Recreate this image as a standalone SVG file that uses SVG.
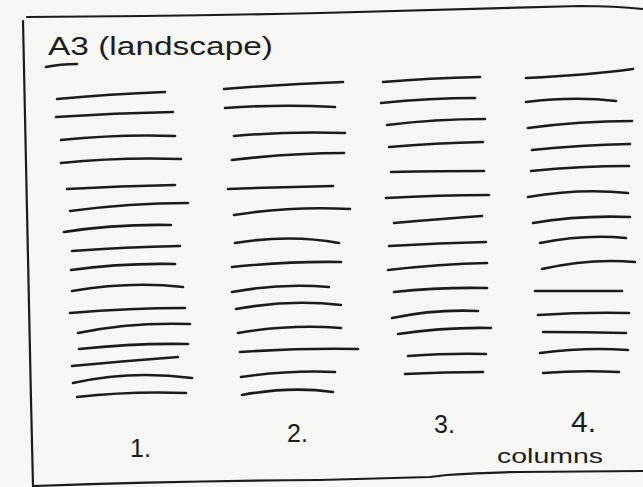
<svg xmlns="http://www.w3.org/2000/svg" width="643" height="487" viewBox="0 0 643 487">
<style>
.bg{fill:#f7f7f5}
.ink{fill:none;stroke:#1c1c1c;stroke-width:2.6;stroke-linecap:round;stroke-linejoin:round}
.frame{fill:none;stroke:#1c1c1c;stroke-width:2.2;stroke-linecap:round;stroke-linejoin:round}
.t{font-family:"Liberation Sans","DejaVu Sans",sans-serif;fill:#1c1c1c}
</style>
<rect class="bg" x="0" y="0" width="643" height="487"/>
<g id="sheet">
<path class="frame" d="M27 17 Q180 16 320 13 Q450 10 580 6 Q615 6 643 9"/>
<path class="frame" d="M23 21 Q28 250 31 400 L33 486"/>
<path class="frame" d="M33 486 Q180 481 320 480 L430 477 L447 475 Q500 472 520 472 L643 471"/>
</g>
<g id="title">
<text class="t" x="48" y="55" font-size="26" textLength="225" lengthAdjust="spacingAndGlyphs">A3 (landscape)</text>
<path class="ink" d="M46 67 Q60 64 77 64"/>
</g>
<g id="column1">
<path class="ink" d="M57 99 Q110 94 165 92"/>
<path class="ink" d="M56 117 Q115 113 173 112"/>
<path class="ink" d="M61 140 Q120 134 175 136"/>
<path class="ink" d="M61 163 Q120 157 181 159"/>
<path class="ink" d="M67 189 Q120 186 175 185"/>
<path class="ink" d="M70 211 Q130 203 188 203"/>
<path class="ink" d="M64 232 Q115 224 171 225"/>
<path class="ink" d="M72 251 Q125 247 180 246"/>
<path class="ink" d="M71 270 Q120 263 175 264"/>
<path class="ink" d="M72 291 Q130 281 183 287"/>
<path class="ink" d="M70 313 Q130 308 185 308"/>
<path class="ink" d="M78 333 Q130 322 190 324"/>
<path class="ink" d="M79 349 Q135 343 188 344"/>
<path class="ink" d="M72 366 Q125 361 178 357"/>
<path class="ink" d="M73 383 Q130 370 192 378"/>
<path class="ink" d="M77 397 Q130 391 186 393"/>
</g>
<g id="column2">
<path class="ink" d="M224 89 Q285 84 343 82"/>
<path class="ink" d="M225 108 Q280 104 335 107"/>
<path class="ink" d="M234 136 Q290 131 345 133"/>
<path class="ink" d="M232 160 Q290 153 344 153"/>
<path class="ink" d="M228 189 Q280 187 333 186"/>
<path class="ink" d="M234 215 Q290 206 350 209"/>
<path class="ink" d="M235 243 Q290 234 339 243"/>
<path class="ink" d="M232 267 Q290 261 341 262"/>
<path class="ink" d="M232 292 Q280 283 329 287"/>
<path class="ink" d="M236 309 Q290 299 341 305"/>
<path class="ink" d="M238 333 Q290 324 341 328"/>
<path class="ink" d="M240 352 Q300 348 358 349"/>
<path class="ink" d="M241 377 Q290 370 335 372"/>
<path class="ink" d="M242 395 Q290 386 333 392"/>
</g>
<g id="column3">
<path class="ink" d="M383 82 Q430 78 480 77"/>
<path class="ink" d="M381 103 Q430 98 475 98"/>
<path class="ink" d="M387 125 Q435 119 485 119"/>
<path class="ink" d="M389 147 Q435 143 483 142"/>
<path class="ink" d="M391 172 Q440 171 484 171"/>
<path class="ink" d="M386 198 Q440 195 489 195"/>
<path class="ink" d="M394 223 Q440 219 482 216"/>
<path class="ink" d="M389 246 Q440 243 486 242"/>
<path class="ink" d="M388 270 Q440 264 487 263"/>
<path class="ink" d="M394 292 Q440 287 487 288"/>
<path class="ink" d="M392 318 Q435 309 478 311"/>
<path class="ink" d="M398 334 Q445 327 491 328"/>
<path class="ink" d="M408 356 Q450 353 486 354"/>
<path class="ink" d="M405 374 Q445 372 483 372"/>
</g>
<g id="column4">
<path class="ink" d="M526 78 Q590 75 633 69"/>
<path class="ink" d="M526 102 Q575 96 616 101"/>
<path class="ink" d="M528 128 Q580 121 632 121"/>
<path class="ink" d="M532 150 Q580 145 630 144"/>
<path class="ink" d="M531 171 Q580 166 629 166"/>
<path class="ink" d="M528 197 Q580 188 628 193"/>
<path class="ink" d="M533 223 Q580 215 630 217"/>
<path class="ink" d="M540 243 Q585 234 626 238"/>
<path class="ink" d="M542 269 Q590 258 635 262"/>
<path class="ink" d="M535 291 Q580 291 622 291"/>
<path class="ink" d="M538 315 Q585 312 629 313"/>
<path class="ink" d="M543 332 Q585 332 626 333"/>
<path class="ink" d="M540 353 Q585 347 628 350"/>
<path class="ink" d="M543 373 Q580 370 619 372"/>
</g>
<g id="labels">
<text class="t" x="130" y="457" font-size="25">1.</text>
<text class="t" x="287" y="442" font-size="25">2.</text>
<text class="t" x="434" y="433" font-size="25">3.</text>
<text class="t" x="571" y="432" font-size="30">4.</text>
<text class="t" x="497" y="463" font-size="20" textLength="106" lengthAdjust="spacingAndGlyphs">columns</text>
</g>
</svg>
